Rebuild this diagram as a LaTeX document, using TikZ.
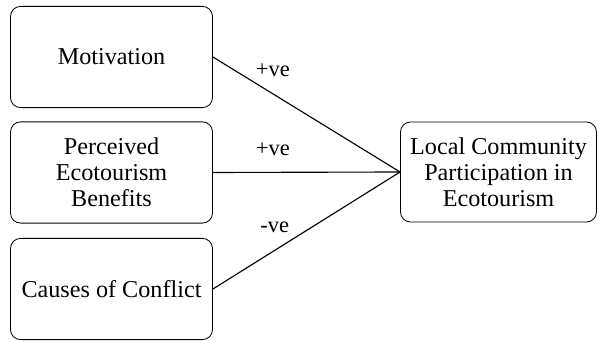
\documentclass[tikz,border=0pt]{standalone}
\usepackage{fontspec}
\setmainfont{Liberation Serif}
\usetikzlibrary{positioning}

\begin{document}
\begin{tikzpicture}[
  factor/.style={draw,rounded corners=0.25cm,line width=0.6pt,align=center,
    minimum width=5.05cm,minimum height=2.53cm,inner sep=0pt,
    font=\fontsize{17.2}{18.6}\selectfont},
  link/.style={line width=0.8pt},
  sign/.style={font=\fontsize{16}{18}\selectfont,yshift=0.58cm}
]
\useasboundingbox (0,0) rectangle (14.95,8.55);
\node[factor] (mot) at (2.7875,7.125) {Motivation};
\node[factor] (ben) at (2.7875,4.2375) {Perceived\\Ecotourism\\Benefits};
\node[factor] (con) at (2.7875,1.325) {Causes of Conflict};
\node[factor,minimum width=4.9cm,minimum height=2.5cm] (lcp) at (12.4625,4.25) {Local Community\\Participation in\\Ecotourism};

\draw[link] (mot.east) -- (lcp.west) node[sign,pos=0.32] (s1) {+ve};
\draw[link] (ben.east) -- (lcp.west) node[sign,pos=0.32] (s2) {+ve};
\draw[link] (con.east) -- (lcp.west) node[sign,pos=0.33] (s3) {-ve};

\end{tikzpicture}
\end{document}
